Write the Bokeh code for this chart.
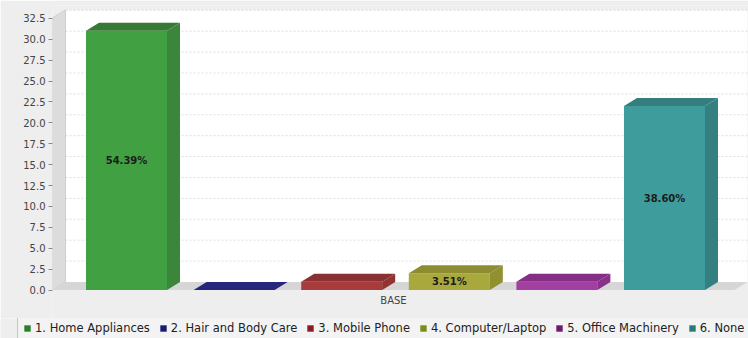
import numpy as np
from bokeh.plotting import figure
from bokeh.models import Range1d, FixedTicker, NumeralTickFormatter, Legend, LegendItem, ColumnDataSource
from bokeh.core.properties import value
from bokeh.embed import file_html
from bokeh.resources import INLINE

# ---------------- data ----------------
categories = ["1. Home Appliances", "2. Hair and Body Care", "3. Mobile Phone",
              "4. Computer/Laptop", "5. Office Machinery", "6. None"]
counts = [31, 0, 1, 2, 1, 22]
axis_label = "BASE"
y_ticks = [0, 2.5, 5, 7.5, 10, 12.5, 15, 17.5, 20, 22.5, 25, 27.5, 30, 32.5]

front_colors = ["#41a041", "#2e2e92", "#a83c3c", "#a8a83c", "#a240a2", "#3f9c9c"]
top_colors = ["#367a36", "#26267a", "#8a3030", "#8c8c30", "#852e85", "#347e7e"]
side_colors = ["#3b863b", "#282880", "#913333", "#90902f", "#8a308a", "#348080"]
legend_colors = ["#2a7f2a", "#1a1a6e", "#8b1a22", "#7a8c1a", "#6e1a6e", "#2a7a7a"]

# ---------------- geometry (pixel styles -> data units) ----------------
W = 748
H_MAIN, H_LEG = 318, 20
frame_left_px, frame_top_px = 52, 5
kx = 107.6            # px per category step
ky = 8.36             # px per count unit
x0_px = 126           # pixel of first category center
y0_px = 289.5         # pixel of value 0
depth_x_px, depth_y_px = 13, 8

xs = -(x0_px - frame_left_px) / kx
xe = xs + (W - frame_left_px) / kx
ys = -(H_MAIN - y0_px) / ky
ye = (y0_px - frame_top_px) / ky
dx = depth_x_px / kx
dy = depth_y_px / ky
xf1 = (734 - x0_px) / kx          # right edge of front plane
top_v = max(counts) * 1.05        # upper bound of value axis
bar_w = 81 / kx

p = figure(width=W, height=H_MAIN, x_range=Range1d(xs, xe), y_range=Range1d(ys, ye),
           output_backend="svg", toolbar_location=None, x_axis_location=None,
           min_border_left=frame_left_px, min_border_right=0,
           min_border_top=frame_top_px, min_border_bottom=0)
p.grid.visible = False
p.outline_line_color = None
p.background_fill_color = "#eeeeee"
p.border_fill_color = "#eeeeee"

ax = p.yaxis[0]
ax.ticker = FixedTicker(ticks=y_ticks)
ax.formatter = NumeralTickFormatter(format="0.0")
ax.axis_line_color = None
ax.major_tick_line_color = "#8a8a8a"
ax.major_tick_out = 4
ax.major_tick_in = 0
ax.minor_tick_line_color = None
ax.major_label_text_font = "DejaVu Sans"
ax.major_label_text_font_size = "10px"
ax.major_label_text_color = "#444444"
ax.major_label_standoff = 3

# back wall, left wall, floor
p.quad(left=[xs + dx], right=[xf1 + dx], bottom=[dy], top=[top_v + dy],
       fill_color="white", line_color=None)
grid_y = [t + dy for t in y_ticks[1:]]
p.segment(x0=[xs + dx] * len(grid_y), x1=[xf1 + dx] * len(grid_y), y0=grid_y, y1=grid_y,
          line_color="#dedede", line_width=1, line_dash="2 2")
p.patch(x=[xs, xs + dx, xs + dx, xs], y=[0, dy, top_v + dy, top_v],
        fill_color="#dcdcdc", line_color="#cfcfcf", line_width=1)
p.patch(x=[xs, xf1, xf1 + dx, xs + dx], y=[0, 0, dy, dy],
        fill_color="#d6d6d6", line_color=None)

# bars
idx = list(range(len(counts)))
lefts = [i - bar_w / 2 for i in idx]
rights = [i + bar_w / 2 for i in idx]
p.quad(left=lefts, right=rights, bottom=[0] * len(counts), top=counts,
       fill_color=front_colors, line_color=None)
top_xs = [[l, r, r + dx, l + dx] for l, r in zip(lefts, rights)]
top_ys = [[v, v, v + dy, v + dy] for v in counts]
p.patches(xs=top_xs, ys=top_ys, fill_color=top_colors, line_color=None)
side_xs = [[r, r + dx, r + dx, r] for r in rights]
side_ys = [[0, dy, v + dy, v] for v in counts]
p.patches(xs=side_xs, ys=side_ys, fill_color=side_colors, line_color=None)

# percentage labels
total = sum(counts)
lab_x, lab_y, lab_t = [], [], []
for i, v in enumerate(counts):
    if v * ky >= 12:
        lab_x.append(i)
        lab_y.append(v / 2)
        lab_t.append(f"{v / total * 100:.2f}%")
p.text(x=lab_x, y=lab_y, text=lab_t, text_align="center", text_baseline="middle",
       text_font=value("DejaVu Sans"), text_font_style="bold", text_font_size="10px",
       text_color="#1c1c1c")

# category axis label
p.text(x=[(xs + xf1) / 2], y=[-(300 - y0_px) / ky], text=[axis_label],
       text_align="center", text_baseline="middle", text_font=value("DejaVu Sans"),
       text_font_size="10px", text_color="#444444")

# legend strip (separate root, full-width frame so nothing clips it)
q = figure(width=W, height=H_LEG, x_range=Range1d(0, 1), y_range=Range1d(0, 1),
           output_backend="svg", toolbar_location=None, x_axis_location=None,
           y_axis_location=None, min_border_left=0, min_border_right=0,
           min_border_top=0, min_border_bottom=0)
q.grid.visible = False
q.outline_line_color = None
q.background_fill_color = "#eeeeee"
q.border_fill_color = "#eeeeee"
items = []
for cat, col in zip(categories, legend_colors):
    src = ColumnDataSource(dict(l=np.array([np.nan]), r=np.array([np.nan]),
                                t=np.array([np.nan]), b=np.array([np.nan])))
    r = q.quad(left="l", right="r", top="t", bottom="b", source=src,
               fill_color=col, line_color=None)
    items.append(LegendItem(label=cat, renderers=[r]))
legend = Legend(items=items, orientation="horizontal", location=(17, -3),
                padding=5, spacing=9, margin=0, glyph_width=8, glyph_height=8,
                label_standoff=4, label_height=12, label_text_font="DejaVu Sans",
                label_text_font_size="11.5px", label_text_color="#222222",
                border_line_color="#9a9a9a", border_line_width=1,
                background_fill_color="#f3f3f3", background_fill_alpha=1.0)
q.add_layout(legend)

open("out.html", "w").write(file_html([p, q], INLINE))
